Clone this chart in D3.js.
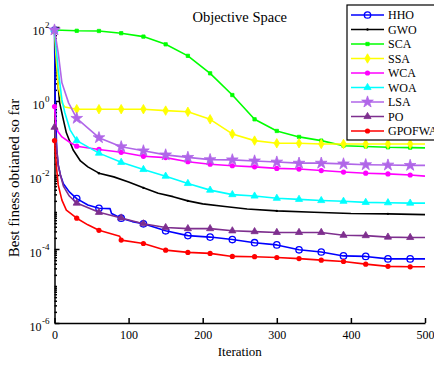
<!DOCTYPE html>
<html>
<head>
<meta charset="utf-8">
<script src="https://cdn.jsdelivr.net/npm/d3@7"></script>
<style>
  body { margin: 0; background: #fff; }
  .axis path, .axis line { stroke: #000; stroke-width: 1.5; }
</style>
</head>
<body>
<svg class="convergence-chart"></svg>
<script>
// algorithms, in legend order
var names = ["HHO", "GWO", "SCA", "SSA", "WCA", "WOA", "LSA", "PO", "GPOFWA"];
var colors = ["#0000ff", "#000000", "#00ff00", "#ffff00", "#ff00ff", "#00ffff", "#b066e8", "#7e2f8e", "#ff0000"];
var markerTypes = ["circle", "point", "square", "diamond", "dot", "triangle", "star", "triangle", "dot"];

var xTicks = [0, 100, 200, 300, 400, 500];
var yTickExps = [-6, -4, -2, 0, 2];

// best fitness per iteration
var hhoIter = [0, 1, 3, 5, 8, 12, 20, 30, 45, 60, 75, 77, 90, 105, 120, 150, 180, 210, 240, 270, 300, 330, 360, 390, 420, 450, 480, 500];
var hhoFit = [83, 1.07, 0.048, 0.0186, 0.01, 5.8e-3, 3.5e-3, 2.3e-3, 1.55e-3, 1.26e-3, 1.23e-3, 9.1e-4, 6.8e-4, 5.5e-4, 4.8e-4, 3.1e-4, 2.3e-4, 2.1e-4, 1.8e-4, 1.48e-4, 1.29e-4, 9.5e-5, 8.3e-5, 6.5e-5, 6.3e-5, 5.4e-5, 5.4e-5, 5.4e-5];

var gwoIter = [0, 1, 3, 7, 12, 16, 25, 35, 45, 60, 80, 100, 120, 140, 160, 180, 200, 230, 260, 300, 350, 400, 450, 500];
var gwoFit = [83, 32, 6.9, 0.89, 0.31, 0.138, 0.048, 0.024, 0.0166, 0.0112, 8.9e-3, 6.5e-3, 4.5e-3, 3.2e-3, 2.6e-3, 2.0e-3, 1.66e-3, 1.41e-3, 1.2e-3, 1.07e-3, 9.8e-4, 9.1e-4, 8.9e-4, 8.5e-4];

var scaIter = [0, 30, 60, 90, 120, 150, 180, 210, 240, 270, 300, 330, 360, 390, 420, 450, 480, 500];
var scaFit = [83, 79, 78, 68, 55, 34, 16.6, 5.6, 1.45, 0.32, 0.155, 0.107, 0.085, 0.062, 0.059, 0.056, 0.055, 0.054];

var ssaIter = [0, 2, 5, 10, 14, 30, 60, 90, 120, 150, 180, 210, 240, 270, 300, 330, 360, 390, 420, 450, 480, 500];
var ssaFit = [83, 17, 2.5, 0.89, 0.69, 0.60, 0.60, 0.60, 0.60, 0.55, 0.51, 0.32, 0.129, 0.085, 0.072, 0.072, 0.069, 0.069, 0.069, 0.069, 0.069, 0.069];

var wcaIter = [0, 2, 5, 10, 20, 30, 60, 90, 120, 150, 180, 210, 240, 270, 300, 330, 360, 390, 420, 450, 480, 500];
var wcaFit = [0.71, 0.204, 0.145, 0.107, 0.078, 0.060, 0.049, 0.041, 0.032, 0.0295, 0.0229, 0.0195, 0.0178, 0.0166, 0.0151, 0.0145, 0.0132, 0.0120, 0.0112, 0.0107, 0.0100, 0.0093];

var woaIter = [0, 5, 10, 14, 21, 30, 60, 90, 120, 150, 180, 210, 240, 270, 300, 330, 360, 390, 420, 450, 480, 500];
var woaFit = [83, 6.9, 1.07, 0.48, 0.166, 0.085, 0.039, 0.022, 0.0141, 9.3e-3, 5.9e-3, 3.9e-3, 2.95e-3, 2.7e-3, 2.35e-3, 2.2e-3, 2.04e-3, 1.95e-3, 1.82e-3, 1.78e-3, 1.74e-3, 1.74e-3];

var lsaIter = [0, 5, 10, 19, 30, 60, 90, 120, 150, 180, 210, 240, 270, 300, 330, 360, 390, 420, 450, 480, 500];
var lsaFit = [83, 20, 3.1, 0.89, 0.34, 0.102, 0.058, 0.045, 0.035, 0.030, 0.026, 0.0257, 0.024, 0.0224, 0.0209, 0.0209, 0.020, 0.019, 0.0186, 0.0182, 0.0182];

var poIter = [0, 2, 5, 8, 12, 20, 30, 60, 90, 120, 150, 180, 210, 240, 270, 300, 330, 360, 390, 420, 450, 480, 500];
var poFit = [0.195, 0.089, 0.0186, 0.01, 5.0e-3, 2.7e-3, 1.74e-3, 9.8e-4, 6.9e-4, 4.8e-4, 3.8e-4, 3.55e-4, 3.55e-4, 3.1e-4, 2.95e-4, 2.8e-4, 2.8e-4, 2.8e-4, 2.35e-4, 2.3e-4, 2.1e-4, 2.05e-4, 2.05e-4];

var gpofwaIter = [0, 3, 5, 10, 16, 30, 45, 60, 88, 90, 120, 150, 180, 210, 240, 270, 300, 330, 360, 390, 420, 450, 480, 500];
var gpofwaFit = [0.085, 0.0138, 5.4e-3, 2.1e-3, 1.12e-3, 6.8e-4, 4.5e-4, 3.2e-4, 2.2e-4, 1.74e-4, 1.41e-4, 9.3e-5, 8.1e-5, 7.6e-5, 6.3e-5, 6.2e-5, 5.9e-5, 5.5e-5, 5.0e-5, 4.6e-5, 3.9e-5, 3.4e-5, 3.3e-5, 3.3e-5];

var iters = [hhoIter, gwoIter, scaIter, ssaIter, wcaIter, woaIter, lsaIter, poIter, gpofwaIter];
var fits = [hhoFit, gwoFit, scaFit, ssaFit, wcaFit, woaFit, lsaFit, poFit, gpofwaFit];

var serif = "'Liberation Serif', 'Times New Roman', serif";

drawConvergence();

function drawConvergence() {
  var margin = {top: 27, right: 9, bottom: 42, left: 54.5};
  var width = 434 - margin.left - margin.right;
  var height = 365 - margin.top - margin.bottom;

  var x = d3.scaleLinear().domain([0, 500]).range([0, width]);
  var y = d3.scaleLog().domain([1e-6, 1e2]).range([height, 0]);

  var svg = d3.select(".convergence-chart")
    .attr("width", 434)
    .attr("height", 365)
    .attr("font-family", serif)
    .style("display", "block");

  var chart = svg.append("g")
    .attr("transform", "translate(" + margin.left + "," + margin.top + ")");

  // y minor ticks (every 1..9 x 10^k except the labelled decades)
  var minor = y.ticks().filter(function(v) {
    var e = Math.log10(v);
    return Math.abs(e - Math.round(e)) > 1e-6 || yTickExps.indexOf(Math.round(e)) < 0;
  });
  chart.append("g")
    .attr("class", "axis")
    .call(d3.axisLeft(y).tickValues(minor).tickSize(-2.5).tickFormat(""))
    .select(".domain").remove();

  // y major ticks
  chart.append("g")
    .attr("class", "axis")
    .call(d3.axisLeft(y)
      .tickValues(yTickExps.map(function(e) { return Math.pow(10, e); }))
      .tickSize(-5).tickSizeOuter(0).tickFormat(""));

  yTickExps.forEach(function(e) {
    var t = chart.append("text")
      .attr("x", -5)
      .attr("y", y(Math.pow(10, e)) + 7.5)
      .attr("text-anchor", "end")
      .attr("font-family", serif)
      .attr("font-size", 12);
    t.append("tspan").text("10");
    t.append("tspan").attr("dy", -6.5).attr("dx", 0.5).attr("font-size", 9).text(e);
  });

  chart.append("g")
    .attr("class", "axis")
    .attr("transform", "translate(0," + height + ")")
    .call(d3.axisBottom(x).tickValues(xTicks).tickSize(-5).tickSizeOuter(0).tickPadding(7.5))
    .attr("font-family", serif)
    .attr("font-size", 12);

  var line = d3.line()
    .x(function(d) { return x(d[0]); })
    .y(function(d) { return y(d[1]); });

  names.forEach(function(name, i) {
    var pts = iters[i].map(function(it, j) { return [it, fits[i][j]]; });
    chart.append("path")
      .datum(pts)
      .attr("fill", "none")
      .attr("stroke", colors[i])
      .attr("stroke-width", 1.6)
      .attr("stroke-linejoin", "round")
      .attr("d", line);

    var marks = pts.filter(function(d) { return d[0] % 30 === 0 && d[0] <= 480; });
    marks.forEach(function(d) {
      drawMarker(chart, markerTypes[i], colors[i], x(d[0]), y(d[1]));
    });
  });

  // title and labels
  chart.append("text")
    .attr("x", width / 2)
    .attr("y", -5)
    .attr("text-anchor", "middle")
    .attr("font-family", serif)
    .attr("font-size", 14.5)
    .text("Objective Space");

  chart.append("text")
    .attr("x", width / 2)
    .attr("y", height + 33)
    .attr("text-anchor", "middle")
    .attr("font-family", serif)
    .attr("font-size", 13)
    .text("Iteration");

  svg.append("text")
    .attr("transform", "translate(19," + (margin.top + height / 2 + 3) + ") rotate(-90)")
    .attr("text-anchor", "middle")
    .attr("font-family", serif)
    .attr("font-size", 15)
    .text("Best finess obtianed so far");

  // legend
  var legend = svg.append("g").attr("transform", "translate(347,5)");
  legend.append("rect")
    .attr("width", 100)
    .attr("height", 135)
    .attr("fill", "#fff")
    .attr("stroke", "#000")
    .attr("stroke-width", 1.2);

  names.forEach(function(name, i) {
    var ly = 10 + i * 14.5;
    legend.append("line")
      .attr("x1", 4).attr("x2", 37)
      .attr("y1", ly).attr("y2", ly)
      .attr("stroke", colors[i])
      .attr("stroke-width", 1.6);
    drawMarker(legend, markerTypes[i], colors[i], 20.5, ly);
    legend.append("text")
      .attr("x", 41)
      .attr("y", ly + 4.3)
      .attr("font-family", serif)
      .attr("font-size", 12)
      .text(name);
  });
}

function drawMarker(g, type, color, cx, cy) {
  if (type === "circle") {
    g.append("circle").attr("cx", cx).attr("cy", cy).attr("r", 3.2)
      .attr("fill", "none").attr("stroke", color).attr("stroke-width", 1.3);
  } else if (type === "dot") {
    g.append("circle").attr("cx", cx).attr("cy", cy).attr("r", 2.6)
      .attr("fill", color);
  } else if (type === "point") {
    g.append("circle").attr("cx", cx).attr("cy", cy).attr("r", 1.2)
      .attr("fill", color);
  } else {
    var sym = {square: d3.symbolSquare, diamond: d3.symbolDiamond, triangle: d3.symbolTriangle, star: d3.symbolStar}[type];
    var size = {square: 11, diamond: 26, triangle: 22, star: 42}[type];
    g.append("path")
      .attr("transform", "translate(" + cx + "," + cy + ")")
      .attr("d", d3.symbol().type(sym).size(size))
      .attr("fill", color)
      .attr("stroke", color)
      .attr("stroke-width", 0.8);
  }
}
</script>
</body>
</html>
